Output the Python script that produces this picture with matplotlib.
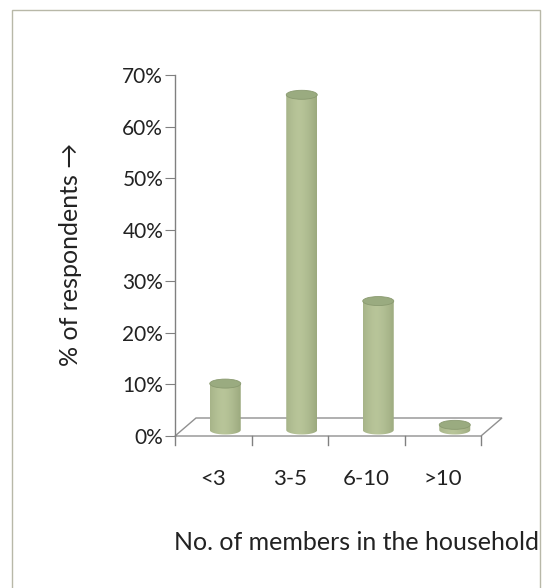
import matplotlib
matplotlib.use("Agg")
import matplotlib.pyplot as plt
import numpy as np
from matplotlib.patches import Ellipse, Polygon, Rectangle, PathPatch
from matplotlib.path import Path

categories = ["<3", "3-5", "6-10", ">10"]
values = [0.09, 0.65, 0.25, 0.01]
yticks = [0.0, 0.1, 0.2, 0.3, 0.4, 0.5, 0.6, 0.7]
ytick_labels = ["0%", "10%", "20%", "30%", "40%", "50%", "60%", "70%"]

plt.rcParams['font.family'] = ['Lato', 'DejaVu Sans']

W, H = 542, 588
fig = plt.figure(figsize=(W / 100, H / 100), dpi=100)
fig.patch.set_facecolor("white")

# outer frame
fig.patches.append(Rectangle((12 / W, -0.05), (540 - 12) / W, 1.05 - 10 / H,
                             transform=fig.transFigure, fill=False,
                             edgecolor="#b8b8a8", linewidth=1.0))

ax = fig.add_axes([175 / W, 1 - 436 / H, (481 - 175) / W, (436 - 75) / H])
ax.set_xlim(0, 4)
ax.set_ylim(0, 0.70)
ax.set_facecolor("none")
for s in ["top", "right", "bottom"]:
    ax.spines[s].set_visible(False)
ax.spines["left"].set_color("#808080")
ax.spines["left"].set_linewidth(1.0)
ax.set_yticks(yticks)
ax.set_yticklabels(ytick_labels, fontsize=15, color="#222222")
ax.tick_params(axis="y", length=7, color="#808080", pad=1.5)
ax.set_xticks([])

px_x = 4 / (481 - 175)
px_y = 0.70 / (436 - 75)

# floor parallelogram
dx, dy = 21 * px_x, 18 * px_y
floor = Polygon([(0, 0), (4, 0), (4 + dx, dy), (dx, dy)], closed=True,
                fill=False, edgecolor="#909090", linewidth=1.0, clip_on=False)
ax.add_patch(floor)
# x tick marks
for i in range(5):
    ax.plot([i, i], [0, -9 * px_y], color="#808080", lw=1.0, clip_on=False)

# category labels
for i, c in enumerate(categories):
    ax.text(i + 0.5, -43 * px_y, c, ha="center", va="center", fontsize=16, color="#222222")

# cylinders
cw = 31 * px_x
eh = 9 * px_y
offx, offy = 12 * px_x, 6 * px_y
grad = np.linspace(0, 1, 256)
prof = 1 - 0.45 * (np.abs(grad - 0.42) / 0.58) ** 1.6
dark = np.array([0.47, 0.53, 0.36])
light = np.array([0.72, 0.77, 0.60])
img = dark[None, :] + (light - dark)[None, :] * prof[:, None]
img = img[None, :, :]
for i, v in enumerate(values):
    cx = i + 0.5 + offx
    y0 = offy
    y1 = offy + v
    t = np.linspace(np.pi, 2 * np.pi, 40)
    bx = cx + cw / 2 * np.cos(t)
    by = y0 + eh / 2 * np.sin(t)
    verts = [(cx - cw / 2, y1)] + list(zip(bx, by)) + [(cx + cw / 2, y1), (cx - cw / 2, y1)]
    path = Path(verts)
    patch = PathPatch(path, facecolor="none", edgecolor="none")
    ax.add_patch(patch)
    im = ax.imshow(img, extent=[cx - cw / 2, cx + cw / 2, y0 - eh, y1 + eh],
                   aspect="auto", zorder=3, interpolation="bilinear")
    im.set_clip_path(patch)
    top = Ellipse((cx, y1), cw, eh, facecolor="#9aab80", edgecolor="#8a9a70",
                  linewidth=0.6, zorder=4)
    ax.add_patch(top)

ax.set_xlim(0, 4)
ax.set_ylim(0, 0.70)

fig.text(70 / W, 1 - 254 / H, "% of respondents →", rotation=90, ha="center",
         va="center", fontsize=18, color="#222222")
fig.text(357 / W, 1 - 542 / H, "No. of members in the household", ha="center",
         va="center", fontsize=18, color="#222222")

fig.savefig("out.png", dpi=100)
